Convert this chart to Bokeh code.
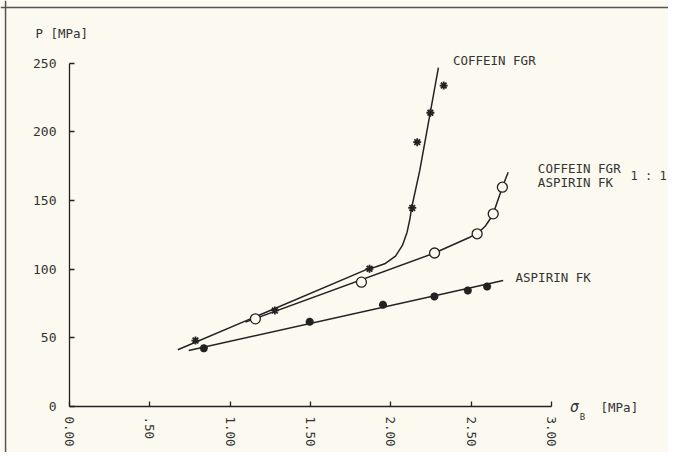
from bokeh.plotting import figure
from bokeh.models import Range1d, FixedTicker, Span
from bokeh.core.properties import value
from bokeh.embed import file_html
from bokeh.resources import INLINE

# ---- data ----
x_tick_values = [0, 0.5, 1, 1.5, 2, 2.5, 3]
x_tick_labels = ["0.00", ".50", "1.00", "1.50", "2.00", "2.50", "3.00"]
y_tick_values = [0, 50, 100, 150, 200, 250]

# measured points
coffein_x = [0.784, 1.278, 1.867, 2.133, 2.164, 2.246, 2.329]
coffein_y = [48.0, 69.9, 100.2, 144.5, 192.4, 213.8, 233.6]

mix_x = [1.157, 1.817, 2.272, 2.537, 2.637, 2.694]
mix_y = [63.8, 90.5, 111.7, 125.7, 140.2, 159.6]

aspirin_x = [0.836, 1.495, 1.951, 2.271, 2.479, 2.599]
aspirin_y = [42.4, 61.6, 74.0, 80.1, 84.4, 87.3]

# fitted curves as drawn
coffein_fit_x = [0.674, 1.869, 1.904, 1.966, 2.029, 2.072, 2.101, 2.119, 2.128, 2.180, 2.296]
coffein_fit_y = [41.3, 100.7, 101.5, 104.1, 109.5, 117.2, 126.9, 136.8, 143.9, 171.8, 246.7]

mix_fit_x = [1.095, 2.272, 2.495, 2.545, 2.589, 2.620, 2.637, 2.694, 2.730]
mix_fit_y = [61.4, 111.7, 123.4, 126.6, 131.4, 136.8, 140.2, 159.6, 170.5]

aspirin_fit_x = [0.742, 2.699]
aspirin_fit_y = [40.8, 91.7]

FONT = value("DejaVu Sans Mono")
INK = "#222222"
TXT = "#333333"
BG = "#fbf9f0"

p = figure(width=668, height=452, output_backend="svg", toolbar_location=None,
           x_range=Range1d(-0.4295, 3.728), y_range=Range1d(-33.5, 295.5),
           min_border=0, min_border_left=0, min_border_right=0,
           min_border_top=0, min_border_bottom=0)
p.background_fill_color = BG
p.border_fill_color = BG
p.outline_line_color = None
p.grid.visible = False

# scanned page border (top and left edges)
p.add_layout(Span(location=290.4, dimension="width", line_color="#555555", line_width=1.5))
p.add_layout(Span(location=-0.398, dimension="height", line_color="#555555", line_width=1.5))

for ax in (p.xaxis[0], p.yaxis[0]):
    ax.fixed_location = 0
    ax.axis_line_color = INK
    ax.axis_line_width = 1.3
    ax.major_tick_line_color = INK
    ax.major_tick_line_width = 1.3
    ax.major_tick_in = 5
    ax.major_tick_out = 0
    ax.minor_tick_line_color = None
    ax.major_label_text_font = "DejaVu Sans Mono"
    ax.major_label_text_color = TXT

p.xaxis[0].bounds = (0, 3)
p.xaxis[0].ticker = FixedTicker(ticks=x_tick_values)
p.xaxis[0].major_label_overrides = dict(zip(x_tick_values, x_tick_labels))
p.xaxis[0].major_label_orientation = "vertical"
p.xaxis[0].major_label_standoff = 10
p.xaxis[0].major_label_text_font_size = "12.5px"

p.yaxis[0].bounds = (0, 250)
p.yaxis[0].ticker = FixedTicker(ticks=y_tick_values)
p.yaxis[0].major_label_standoff = 13
p.yaxis[0].major_label_text_font_size = "13px"

# fitted lines
p.line(coffein_fit_x, coffein_fit_y, line_color=INK, line_width=1.5)
p.line(mix_fit_x, mix_fit_y, line_color=INK, line_width=1.5)
p.line(aspirin_fit_x, aspirin_fit_y, line_color=INK, line_width=1.5)

# measured points
p.scatter(coffein_x, coffein_y, marker="asterisk", size=8, line_color=INK, line_width=1.8)
p.scatter(mix_x, mix_y, marker="circle", size=10, fill_color=BG, line_color=INK, line_width=1.3)
p.scatter(aspirin_x, aspirin_y, marker="asterisk", size=8, line_color=INK, line_width=2.6)

# texts
def label(x, y, t, size="12.5px", style="normal", align="left"):
    p.text(x=[x], y=[y], text=[t], text_font=FONT, text_font_size=size,
           text_font_style=style, text_color=TXT, text_baseline="middle", text_align=align)

label(-0.212, 271.5, "P [MPa]")
label(2.386, 251.8, "COFFEIN FGR")
label(2.915, 173.0, "COFFEIN FGR")
label(2.915, 162.8, "ASPIRIN FK")
label(3.492, 167.6, "1 : 1", size="12px")
label(2.776, 93.7, "ASPIRIN FK")
label(3.115, -0.5, "σ", size="15px", style="italic")
label(3.175, -8.0, "B", size="9px")
label(3.305, -0.5, "[MPa]")

open("out.html", "w").write(file_html(p, INLINE))
